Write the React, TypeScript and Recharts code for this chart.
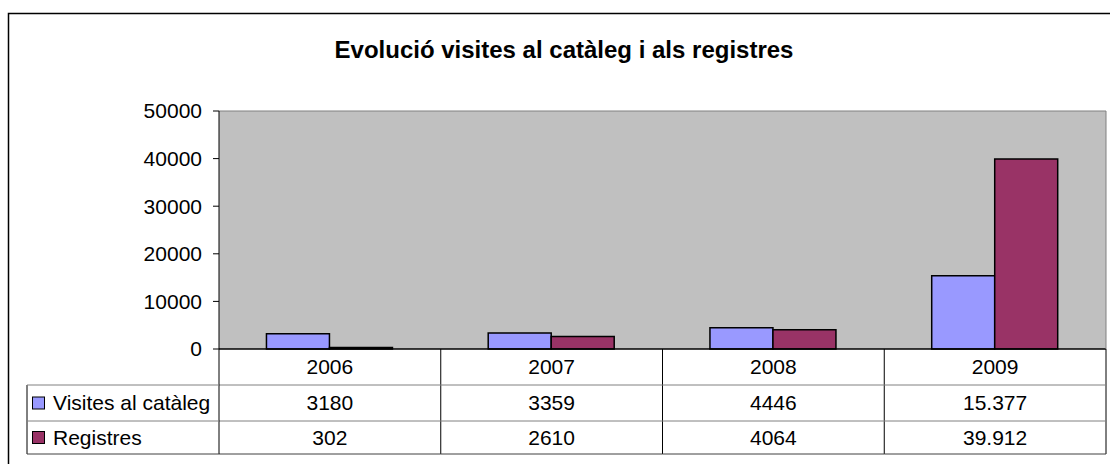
import React from 'react';
import { BarChart, Bar, XAxis, YAxis, CartesianGrid, ReferenceLine } from 'recharts';

const years = ['2006', '2007', '2008', '2009'];
const visites = [3180, 3359, 4446, 15377];
const registres = [302, 2610, 4064, 39912];
const visitesLabels = ['3180', '3359', '4446', '15.377'];
const registresLabels = ['302', '2610', '4064', '39.912'];
const yTicks = [0, 10000, 20000, 30000, 40000, 50000];
const seriesNames = ['Visites al catàleg', 'Registres'];
const seriesColors = ['#9999FF', '#993366'];
const title = 'Evolució visites al catàleg i als registres';

const data = years.map((year, i) => ({ year, visites: visites[i], registres: registres[i] }));

const W = 1110;
const H = 464;
const FONT = '"Liberation Sans", Arial, sans-serif';
const PLOT_LEFT = 219;
const PLOT_RIGHT = 1106;
const PLOT_BOTTOM = 349;
const Y_W = 80;
const X_H = 110;
const CAT_W = (PLOT_RIGHT - PLOT_LEFT) / years.length;
const ROW1 = 385;
const ROW2 = 421;
const ROW3 = 454;
const LEG_LEFT = 27;

const TableTick = (props: any) => {
  const { x, payload, index } = props;
  const i = index ?? years.indexOf(payload.value);
  const l = x - CAT_W / 2;
  const r = x + CAT_W / 2;
  return (
    <g>
      <line x1={r} y1={PLOT_BOTTOM} x2={r} y2={ROW3} stroke="#000" />
      <line x1={l} y1={ROW1} x2={r} y2={ROW1} stroke="#808080" />
      <line x1={l} y1={ROW2} x2={r} y2={ROW2} stroke="#808080" />
      <line x1={l} y1={ROW3} x2={r} y2={ROW3} stroke="#404040" />
      <text x={x} y={(PLOT_BOTTOM + ROW1) / 2} dy="0.355em" textAnchor="middle" fontSize={21} fontFamily={FONT} fill="#000">
        {payload.value}
      </text>
      <text x={x} y={(ROW1 + ROW2) / 2} dy="0.355em" textAnchor="middle" fontSize={21} fontFamily={FONT} fill="#000">
        {visitesLabels[i]}
      </text>
      <text x={x} y={(ROW2 + ROW3) / 2} dy="0.355em" textAnchor="middle" fontSize={21} fontFamily={FONT} fill="#000">
        {registresLabels[i]}
      </text>
      {i === 0 && (
        <g>
          <line x1={PLOT_LEFT} y1={PLOT_BOTTOM} x2={PLOT_LEFT} y2={ROW3} stroke="#000" />
          <line x1={LEG_LEFT} y1={ROW1} x2={LEG_LEFT} y2={ROW3} stroke="#000" />
          <line x1={LEG_LEFT} y1={ROW1} x2={PLOT_LEFT} y2={ROW1} stroke="#808080" />
          <line x1={LEG_LEFT} y1={ROW2} x2={PLOT_LEFT} y2={ROW2} stroke="#808080" />
          <line x1={LEG_LEFT} y1={ROW3} x2={PLOT_LEFT} y2={ROW3} stroke="#404040" />
          {seriesNames.map((name, k) => {
            const cy = k === 0 ? (ROW1 + ROW2) / 2 : (ROW2 + ROW3) / 2;
            return (
              <g key={name}>
                <rect x={32.5} y={cy - 6} width={12} height={12} fill={seriesColors[k]} stroke="#000" />
                <text x={53} y={cy} dy="0.355em" fontSize={21} fontFamily={FONT} fill="#000">
                  {name}
                </text>
              </g>
            );
          })}
        </g>
      )}
    </g>
  );
};

export default function App() {
  return (
    <div style={{ position: 'absolute', left: 0, top: 0, width: W, height: H, overflow: 'hidden', background: '#fff' }}>
      <BarChart
        width={W}
        height={H}
        data={data}
        margin={{ top: 111, right: W - PLOT_RIGHT - 1, bottom: H - PLOT_BOTTOM - X_H, left: PLOT_LEFT - Y_W }}
        barCategoryGap="21.4%"
        barGap={0}
      >
        <CartesianGrid fill="#C0C0C0" horizontal={false} vertical={false} />
        <ReferenceLine y={50000} stroke="#808080" />
        <XAxis
          dataKey="year"
          height={X_H}
          interval={0}
          axisLine={{ stroke: '#000', strokeWidth: 1.5 }}
          tickLine={false}
          tick={<TableTick />}
        />
        <YAxis
          width={Y_W}
          domain={[0, 50000]}
          ticks={yTicks}
          interval={0}
          axisLine={{ stroke: '#000' }}
          tickLine={{ stroke: '#000' }}
          tickSize={6}
          tickMargin={11}
          tick={{ fill: '#000', fontSize: 21, fontFamily: FONT }}
        />
        <YAxis
          yAxisId="right"
          orientation="right"
          width={1}
          axisLine={{ stroke: '#808080' }}
          tick={false}
          tickLine={false}
        />
        <Bar dataKey="visites" name={seriesNames[0]} fill={seriesColors[0]} stroke="#000" strokeWidth={1.5} isAnimationActive={false} />
        <Bar dataKey="registres" name={seriesNames[1]} fill={seriesColors[1]} stroke="#000" strokeWidth={1.5} isAnimationActive={false} />
      </BarChart>
      <svg width={W} height={H} style={{ position: 'absolute', left: 0, top: 0, pointerEvents: 'none' }}>
        <rect x={8.5} y={13.5} width={W + 20} height={H + 20} fill="none" stroke="#000" strokeWidth={1.5} />
        <text x={564} y={58} textAnchor="middle" fontSize={24} fontWeight="bold" fontFamily={FONT} fill="#000">
          {title}
        </text>
      </svg>
    </div>
  );
}
